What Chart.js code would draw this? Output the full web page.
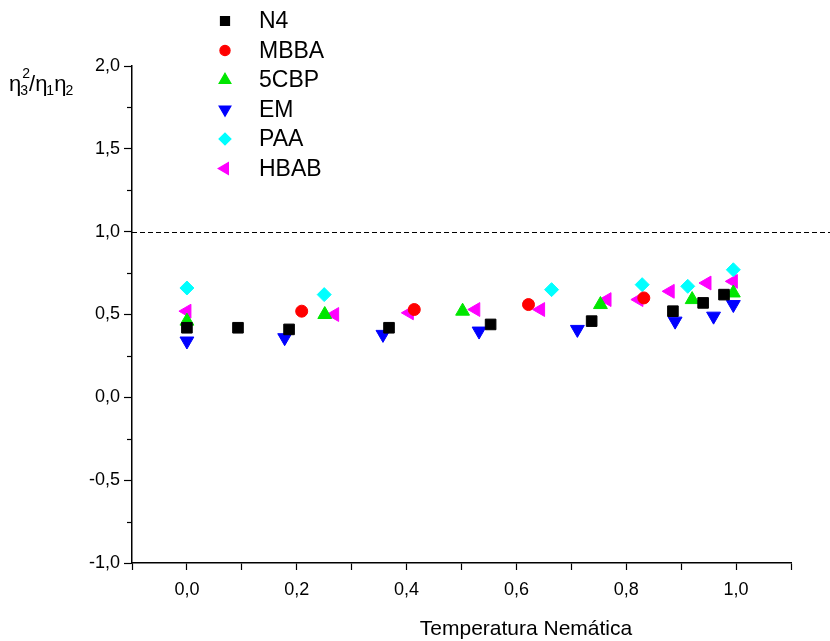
<!DOCTYPE html>
<html>
<head>
<meta charset="utf-8">
<script src="https://cdn.jsdelivr.net/npm/chart.js@4.4.1/dist/chart.umd.min.js"></script>
<style>
  html, body { margin: 0; padding: 0; background: #fff; }
  #wrap { width: 830px; height: 641px; }
</style>
</head>
<body>
<div id="wrap"><canvas id="grafico" width="830" height="641"></canvas></div>
<script>
// valores (x = temperatura nematica reduzida)
const seriesNames = ['N4', 'MBBA', '5CBP', 'EM', 'PAA', 'HBAB'];

const xN4 = [0.0, 0.093, 0.186, 0.368, 0.553, 0.737, 0.885, 0.94, 0.978];
const yN4 = [0.42, 0.42, 0.41, 0.42, 0.44, 0.46, 0.52, 0.57, 0.62];

const xMBBA = [0.209, 0.414, 0.622, 0.832];
const yMBBA = [0.52, 0.53, 0.56, 0.60];

const x5CBP = [0.0, 0.251, 0.502, 0.753, 0.92, 0.995];
const y5CBP = [0.46, 0.50, 0.52, 0.56, 0.59, 0.63];

const xEM = [0.0, 0.178, 0.357, 0.532, 0.711, 0.889, 0.959, 0.995];
const yEM = [0.34, 0.36, 0.38, 0.40, 0.41, 0.46, 0.49, 0.56];

const xPAA = [0.0, 0.25, 0.664, 0.829, 0.912, 0.995];
const yPAA = [0.66, 0.62, 0.65, 0.68, 0.67, 0.77];

const xHBAB = [0.0, 0.269, 0.405, 0.526, 0.644, 0.765, 0.823, 0.88, 0.947, 0.995];
const yHBAB = [0.52, 0.50, 0.51, 0.53, 0.53, 0.59, 0.59, 0.64, 0.69, 0.70];

const xTickLabels = ['0,0', '0,2', '0,4', '0,6', '0,8', '1,0'];
const yTickLabels = ['-1,0', '-0,5', '0,0', '0,5', '1,0', '1,5', '2,0'];
const refLine = 1.0;

const FONT = '"Liberation Sans", Arial, sans-serif';

function pts(xs, ys) {
    return xs.map((x, i) => ({ x: x, y: ys[i] }));
}

const estilos = [
    { color: '#000000', pointStyle: 'rect', radius: 7.5, rotation: 0 },
    { color: '#ff0000', pointStyle: 'circle', radius: 6, rotation: 0 },
    { color: '#00e600', pointStyle: 'triangle', radius: 8, rotation: 0 },
    { color: '#0000ff', pointStyle: 'triangle', radius: 8, rotation: 180 },
    { color: '#00ffff', pointStyle: 'rectRot', radius: 7, rotation: 0 },
    { color: '#ff00ff', pointStyle: 'triangle', radius: 8, rotation: -90 }
];
const dados = [pts(xN4, yN4), pts(xMBBA, yMBBA), pts(x5CBP, y5CBP), pts(xEM, yEM), pts(xPAA, yPAA), pts(xHBAB, yHBAB)];

const datasets = seriesNames.map((nome, i) => ({
    label: nome,
    data: dados[i],
    pointStyle: estilos[i].pointStyle,
    pointRadius: estilos[i].radius,
    pointRotation: estilos[i].rotation,
    pointBackgroundColor: estilos[i].color,
    pointBorderColor: estilos[i].color,
    pointBorderWidth: 1,
    showLine: false
}));

function fmt(v) {
    return v.toFixed(1).replace('.', ',');
}

// linha tracejada em y = 1, ticks menores, legenda e rotulos
const extras = {
    id: 'extras',
    beforeDatasetsDraw(chart) {
        const ctx = chart.ctx;
        const ys = chart.scales.y;
        const py = Math.round(ys.getPixelForValue(refLine)) + 0.5;
        ctx.save();
        ctx.strokeStyle = '#000';
        ctx.lineWidth = 1.2;
        ctx.setLineDash([5, 3]);
        ctx.beginPath();
        ctx.moveTo(chart.chartArea.left, py);
        ctx.lineTo(chart.width, py);
        ctx.stroke();
        ctx.restore();
    },
    afterDraw(chart) {
        const ctx = chart.ctx;
        const ys = chart.scales.y;
        const left = chart.chartArea.left;
        ctx.save();
        // ticks menores do eixo y
        ctx.strokeStyle = '#000';
        ctx.lineWidth = 1.2;
        for (let v = -0.75; v < 2; v += 0.5) {
            const py = Math.round(ys.getPixelForValue(v)) + 0.5;
            ctx.beginPath();
            ctx.moveTo(left - 5, py);
            ctx.lineTo(left, py);
            ctx.stroke();
        }
        // legenda
        ctx.font = '23px ' + FONT;
        ctx.fillStyle = '#000';
        ctx.textBaseline = 'middle';
        chart.data.datasets.forEach((ds, i) => {
            const y = 21 + i * 29.5;
            const opts = {
                pointStyle: ds.pointStyle,
                radius: ds.pointRadius * 0.85,
                rotation: ds.pointRotation,
                borderWidth: 1
            };
            ctx.fillStyle = ds.pointBackgroundColor;
            ctx.strokeStyle = ds.pointBorderColor;
            Chart.helpers.drawPoint(ctx, opts, 225, y);
            ctx.fillStyle = '#000';
            ctx.fillText(ds.label, 259, y + 1);
        });
        // titulo do eixo x
        ctx.font = '21px ' + FONT;
        ctx.textAlign = 'center';
        ctx.textBaseline = 'alphabetic';
        ctx.fillText('Temperatura Nemática', 526, 635);
        // titulo do eixo y: eta3^2 / eta1 eta2
        ctx.textAlign = 'left';
        ctx.font = '22px ' + FONT;
        let x = 9;
        const base = 91;
        ctx.fillText('η', x, base);
        x += ctx.measureText('η').width;
        ctx.font = '14px ' + FONT;
        ctx.fillText('3', x - 1, base + 4);
        ctx.fillText('2', x + 1, base - 13);
        x += ctx.measureText('3').width;
        ctx.font = '22px ' + FONT;
        ctx.fillText('/η', x, base);
        x += ctx.measureText('/η').width;
        ctx.font = '14px ' + FONT;
        ctx.fillText('1', x - 1, base + 4);
        x += ctx.measureText('1').width - 1;
        ctx.font = '22px ' + FONT;
        ctx.fillText('η', x, base);
        x += ctx.measureText('η').width;
        ctx.font = '14px ' + FONT;
        ctx.fillText('2', x - 1, base + 4);
        ctx.restore();
    }
};

const ctxGraf = document.getElementById('grafico').getContext('2d');
new Chart(ctxGraf, {
    type: 'scatter',
    data: { datasets: datasets },
    options: {
        responsive: false,
        animation: false,
        layout: { padding: { top: 66, right: 39, left: 0, bottom: 0 } },
        plugins: {
            legend: { display: false },
            tooltip: { enabled: false }
        },
        scales: {
            x: {
                type: 'linear',
                min: -0.1,
                max: 1.1,
                border: { color: '#000', width: 1.5 },
                grid: { drawOnChartArea: false, drawTicks: true, tickLength: 7, tickColor: '#000', tickWidth: 1.2 },
                ticks: {
                    stepSize: 0.1,
                    autoSkip: false,
                    maxRotation: 0,
                    color: '#000',
                    font: { family: FONT, size: 18 },
                    padding: 9,
                    callback: function (v) {
                        const k = Math.round(v * 10);
                        if (k < 0 || k > 10 || k % 2 !== 0) return '';
                        return xTickLabels[k / 2];
                    }
                },
                afterFit: function (s) { s.height = 78; }
            },
            y: {
                type: 'linear',
                min: -1,
                max: 2,
                border: { color: '#000', width: 1.5 },
                grid: { drawOnChartArea: false, drawTicks: true, tickLength: 8, tickColor: '#000', tickWidth: 1.2 },
                ticks: {
                    stepSize: 0.5,
                    color: '#000',
                    font: { family: FONT, size: 18 },
                    padding: 4,
                    callback: function (v) {
                        const k = Math.round((v + 1) * 2);
                        return yTickLabels[k] !== undefined ? yTickLabels[k] : fmt(v);
                    }
                },
                afterFit: function (s) { s.width = 132; }
            }
        }
    },
    plugins: [extras]
});
</script>
</body>
</html>
